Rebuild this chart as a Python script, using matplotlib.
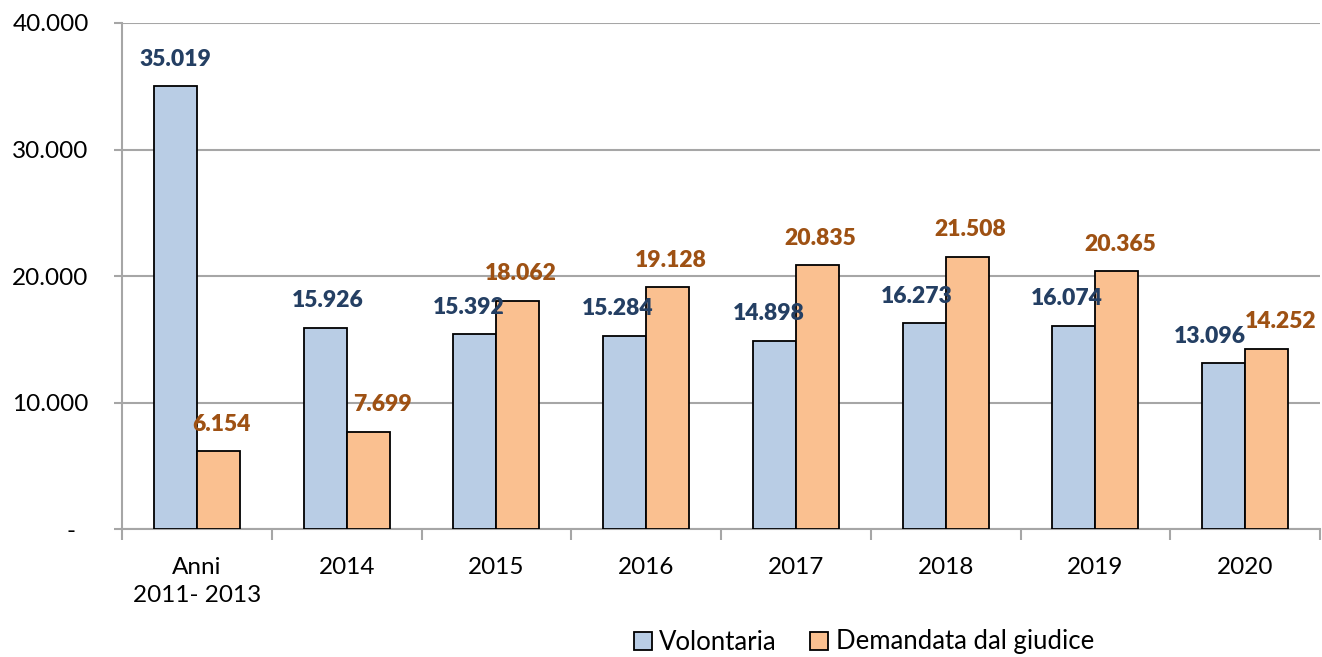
import matplotlib.pyplot as plt
import numpy as np

# data
categories = ["Anni\n2011- 2013", "2014", "2015", "2016", "2017", "2018", "2019", "2020"]
volontaria = [35019, 15926, 15392, 15284, 14898, 16273, 16074, 13096]
demandata = [6154, 7699, 18062, 19128, 20835, 21508, 20365, 14252]
y_ticks = [0, 10000, 20000, 30000, 40000]
y_labels = ["-  ", "10.000", "20.000", "30.000", "40.000"]

# small manual nudges of the value labels (pixels), like in the original
nudge_vol = [0, 3, -6, -7, -6, -7, -7, -14]
nudge_dem = [3, 14, 3, 3, 3, 3, 3, 14]

plt.rcParams['font.family'] = ['Lato', 'DejaVu Sans']

blue = '#B9CDE5'
orange = '#FAC090'
blue_txt = '#243F63'
orange_txt = '#9E5113'
grid_col = '#A6A6A6'

fig = plt.figure(figsize=(13.22, 6.57), dpi=100)
ax = fig.add_axes([0.0923, 0.1948, 0.9062, 0.7702])

x = np.arange(len(categories))
w = 0.287
b1 = ax.bar(x - w / 2, volontaria, w, color=blue, edgecolor='black', linewidth=1.3,
            label='Volontaria', zorder=3)
b2 = ax.bar(x + w / 2, demandata, w, color=orange, edgecolor='black', linewidth=1.3,
            label='Demandata dal giudice', zorder=3)

for i in range(len(x)):
    ax.annotate(f"{volontaria[i]:,}".replace(',', '.'), (x[i] - w / 2, volontaria[i]),
                xytext=(nudge_vol[i], 27), textcoords='offset pixels',
                ha='center', va='center', fontsize=16.5, fontweight='heavy', color=blue_txt,
                zorder=4)
    ax.annotate(f"{demandata[i]:,}".replace(',', '.'), (x[i] + w / 2, demandata[i]),
                xytext=(nudge_dem[i], 27), textcoords='offset pixels',
                ha='center', va='center', fontsize=16.5, fontweight='heavy', color=orange_txt,
                zorder=4)

ax.set_xlim(-0.5, len(categories) - 0.5)
ax.set_ylim(0, 40000)
ax.set_yticks(y_ticks)
ax.set_yticklabels(y_labels, fontsize=17.5)
ax.yaxis.grid(True, color=grid_col, linewidth=1.5, zorder=0)
ax.tick_params(axis='y', length=6, width=1.5, color=grid_col, pad=18)

# boundary ticks on x, labels at the category centres
ax.set_xticks(np.arange(len(categories) + 1) - 0.5)
ax.set_xticklabels([])
ax.tick_params(axis='x', which='major', length=8, width=1.5, color=grid_col)
ax.set_xticks(x, minor=True)
ax.set_xticklabels(categories, minor=True, fontsize=17.5, linespacing=1.45)
ax.tick_params(axis='x', which='minor', length=0, pad=20)

for s in ['top', 'right']:
    ax.spines[s].set_visible(False)
for s in ['left', 'bottom']:
    ax.spines[s].set_color(grid_col)
    ax.spines[s].set_linewidth(1.5)

leg = fig.legend(handles=[b1, b2], loc='center', bbox_to_anchor=(864 / 1322, 1 - 642 / 657),
                 ncol=2, frameon=False, fontsize=18.5, handlelength=0.7, handleheight=0.7,
                 handletextpad=0.3, columnspacing=1.3)

fig.savefig('out.png', dpi=100)
